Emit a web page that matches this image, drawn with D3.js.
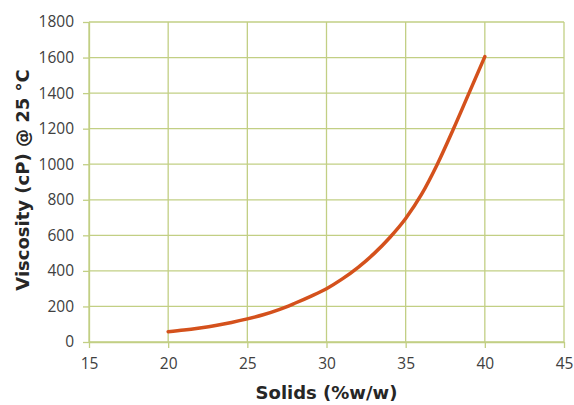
<!DOCTYPE html>
<html>
<head>
<meta charset="utf-8">
<script src="https://cdn.jsdelivr.net/npm/d3@7"></script>
<style>
  body { margin: 0; background: #fff; }
  .tick text { font-family: "Open Sans", sans-serif; font-size: 15.5px; fill: #404040; }
  .axis-title { font-family: "DejaVu Sans", Verdana, sans-serif; font-weight: bold; font-size: 18px; fill: #262626; }
</style>
</head>
<body>
<div id="chart-container"></div>
<script>
// solids (%w/w) vs viscosity (cP)
let solids = [20, 21, 22, 23, 24, 25, 26, 27, 28, 29, 30, 31, 32, 33, 34, 35, 36, 37, 38, 39, 40];
let viscosity = [58, 67, 79, 93, 110, 130, 153, 182, 218, 257, 300, 355, 420, 497, 588, 695, 830, 1000, 1195, 1400, 1605];
let xTicks = [15, 20, 25, 30, 35, 40, 45];
let yTicks = [0, 200, 400, 600, 800, 1000, 1200, 1400, 1600, 1800];

let margin = { top: 22, right: 10, bottom: 63, left: 89 };
let width = 574 - margin.left - margin.right;
let height = 405 - margin.top - margin.bottom;
let gridColor = "#c2cf84";

var svg = d3
  .select("#chart-container")
  .append("svg")
  .attr("width", 574)
  .attr("height", 405)
  .append("g")
  .attr("transform", "translate(" + margin.left + "," + margin.top + ")");

let xScale = d3.scaleLinear().domain([15, 45]).range([0, width]);
let yScale = d3.scaleLinear().domain([0, 1800]).range([height, 0]);

// gridlines
svg
  .append("g")
  .selectAll("line")
  .data(yTicks)
  .enter()
  .append("line")
  .attr("x1", 0)
  .attr("x2", width)
  .attr("y1", (d) => yScale(d))
  .attr("y2", (d) => yScale(d))
  .style("stroke", gridColor)
  .style("stroke-width", 1.3);

svg
  .append("g")
  .selectAll("line")
  .data(xTicks)
  .enter()
  .append("line")
  .attr("x1", (d) => xScale(d))
  .attr("x2", (d) => xScale(d))
  .attr("y1", 0)
  .attr("y2", height)
  .style("stroke", gridColor)
  .style("stroke-width", 1.3);

// axes
let xAxis = svg
  .append("g")
  .attr("transform", "translate(0," + height + ")")
  .call(d3.axisBottom(xScale).tickValues(xTicks).tickSize(6).tickPadding(10).tickSizeOuter(0).tickFormat(d3.format("d")));

let yAxis = svg
  .append("g")
  .call(d3.axisLeft(yScale).tickValues(yTicks).tickSize(6).tickPadding(9).tickSizeOuter(0).tickFormat(d3.format("d")));

[xAxis, yAxis].forEach((a) => {
  a.select(".domain").style("stroke", gridColor).style("stroke-width", 1.3);
  a.selectAll(".tick line").style("stroke", gridColor).style("stroke-width", 1.3);
});

// curve
let line = d3
  .line()
  .x((d, i) => xScale(solids[i]))
  .y((d) => yScale(d))
  .curve(d3.curveMonotoneX);

svg
  .append("path")
  .datum(viscosity)
  .attr("d", line)
  .style("fill", "none")
  .style("stroke", "#d4511c")
  .style("stroke-width", 3.5)
  .style("stroke-linecap", "round");

// axis titles
svg
  .append("text")
  .attr("class", "axis-title")
  .attr("x", width / 2)
  .attr("y", height + 57)
  .style("text-anchor", "middle")
  .text("Solids (%w/w)");

svg
  .append("text")
  .attr("class", "axis-title")
  .attr("transform", "rotate(-90)")
  .attr("x", -158)
  .attr("y", -60)
  .style("text-anchor", "middle")
  .text("Viscosity (cP) @ 25 °C");
</script>
</body>
</html>
